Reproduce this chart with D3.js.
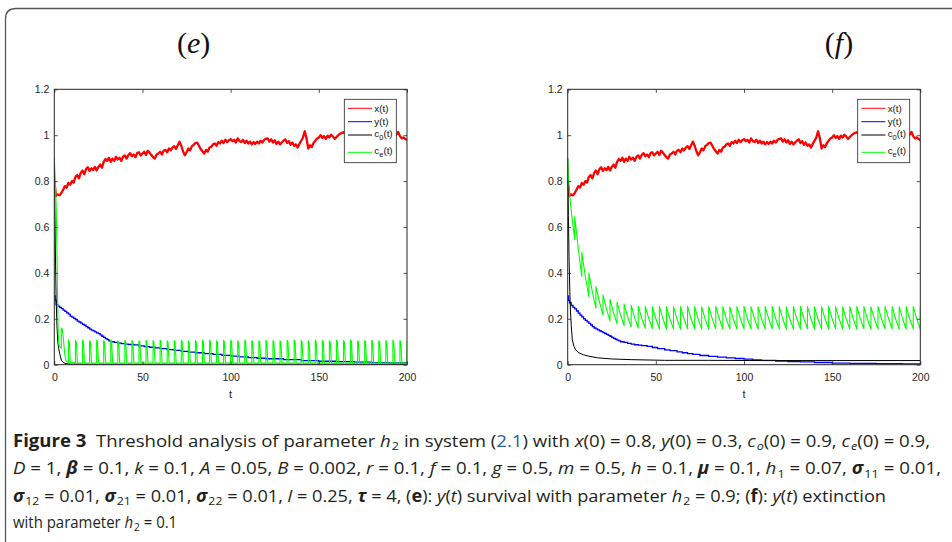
<!DOCTYPE html>
<html><head><meta charset="utf-8">
<script src="https://cdn.jsdelivr.net/npm/d3@7"></script>
<style>body{margin:0;background:#fff}svg{display:block}</style>
</head><body>
<svg id="c" width="952" height="542"></svg>
<script>
// ---------------- DATA ----------------
const tGrid = d3.range(0, 201); // sampling times of x(t)
const xT = [
0.800,0.735,0.742,0.738,0.748,0.762,0.778,0.772,0.792,0.784,
0.800,0.794,0.818,0.826,0.812,0.836,0.846,0.830,0.852,0.860,
0.844,0.856,0.848,0.862,0.846,0.862,0.872,0.858,0.884,0.896,
0.888,0.902,0.884,0.898,0.888,0.906,0.894,0.902,0.888,0.906,
0.912,0.898,0.914,0.922,0.908,0.916,0.904,0.922,0.926,0.912,
0.920,0.928,0.914,0.932,0.924,0.914,0.904,0.898,0.916,0.920,
0.928,0.916,0.932,0.936,0.926,0.942,0.934,0.946,0.952,0.940,
0.956,0.972,0.954,0.930,0.912,0.926,0.942,0.934,0.952,0.958,
0.966,0.968,0.954,0.940,0.930,0.920,0.936,0.928,0.946,0.950,
0.960,0.964,0.954,0.970,0.964,0.976,0.966,0.980,0.970,0.978,
0.983,0.974,0.980,0.968,0.986,0.974,0.970,0.980,0.966,0.976,
0.964,0.972,0.960,0.970,0.962,0.972,0.964,0.976,0.968,0.980,
0.984,0.986,0.972,0.982,0.968,0.978,0.962,0.972,0.960,0.968,
0.976,0.982,0.966,0.974,0.958,0.968,0.954,0.960,0.946,0.962,
0.976,0.990,1.017,0.988,0.942,0.956,0.948,0.966,0.976,0.986,
0.990,1.000,0.988,0.996,0.984,0.998,0.990,1.002,0.994,0.984,
0.992,1.000,1.006,1.010,1.013,1.004,0.998,1.002,0.990,0.996,
1.002,0.990,0.986,0.996,1.000,0.990,0.998,1.004,0.994,0.990,
1.000,0.992,0.986,0.996,1.002,0.998,0.990,0.996,1.000,0.988,
0.996,1.000,0.990,0.998,1.002,1.014,0.996,0.986,0.990,0.984,
0.978];

const yE = [[0,0.300],[0.5,0.28],[1,0.262],[2,0.255],[3,0.25],[4,0.244],[5,0.238],[6,0.232],[7,0.226],[8,0.22],[9,0.212],[10,0.207],[11,0.202],[12,0.197],[13,0.19],[14,0.186],[15,0.181],[16,0.176],[17,0.172],[18,0.166],[19,0.161],[20,0.155],[21,0.151],[22,0.147],[23,0.143],[24,0.139],[25,0.135],[26,0.13],[27,0.124],[28,0.119],[29,0.114],[30,0.109],[31,0.104],[32,0.1],[34,0.097],[36,0.094],[38,0.092],[40,0.09],[42,0.088],[45,0.086],[48,0.082],[51,0.079],[54,0.076],[57,0.073],[60,0.07],[64,0.066],[68,0.062],[72,0.058],[76,0.055],[80,0.052],[85,0.048],[90,0.045],[95,0.041],[100,0.037],[105,0.034],[110,0.031],[115,0.028],[120,0.026],[130,0.022],[140,0.018],[150,0.015],[160,0.013],[170,0.011],[180,0.009],[190,0.008],[200,0.007]];

const yF = [[0,0.3],[0.5,0.28],[1,0.27],[2,0.258],[3,0.25],[4,0.243],[5,0.234],[6,0.225],[7,0.216],[8,0.208],[9,0.2],[10,0.193],[11,0.187],[12,0.18],[13,0.173],[14,0.166],[15,0.16],[16,0.156],[17,0.152],[18,0.148],[19,0.144],[20,0.14],[21,0.136],[22,0.132],[23,0.128],[24,0.124],[25,0.119],[26,0.115],[27,0.111],[28,0.107],[29,0.104],[30,0.1],[32,0.097],[34,0.093],[36,0.09],[38,0.087],[40,0.085],[42,0.083],[45,0.08],[48,0.075],[51,0.07],[55,0.065],[58,0.061],[62,0.056],[65,0.052],[68,0.048],[71,0.045],[75,0.04],[80,0.036],[85,0.033],[90,0.03],[95,0.027],[100,0.024],[105,0.021],[110,0.019],[118,0.016],[125,0.014],[132,0.012],[140,0.0095],[150,0.007],[160,0.006],[175,0.005],[190,0.004],[200,0.003]];

const c0E = [[0,0.9],[0.3,0.7],[0.6,0.5],[1,0.3],[1.5,0.17],[2,0.1],[2.5,0.07],[3,0.05],[4,0.02],[5,0.01],[6,0.006],[8,0.003],[20,0.002],[200,0.002]];

const c0F = [[0,0.9],[0.4,0.65],[0.8,0.45],[1.2,0.32],[1.6,0.23],[2,0.17],[2.6,0.11],[3.5,0.08],[4.5,0.065],[6,0.053],[9,0.043],[12,0.037],[17,0.03],[25,0.025],[36,0.022],[55,0.019],[80,0.019],[110,0.018],[150,0.018],[200,0.018]];

const ceE = [[0,0.9],[0.6,0.8],[1.1,0.68],[1.5,0.5],[1.8,0.33],[2.1,0.18],[2.4,0.1],[2.8,0.082],[3.5,0.076],[4,0.072],[4,0.16],[4.6,0.153],[5.3,0.1],[6,0.04],[6.8,0.015],[8,0.009],
[8,0.009],[8,0.107],[8.5,0.102],[9.1,0.008],
[12,0.008],[12,0.105],[12.5,0.100],[13.1,0.007],
[16,0.007],[16,0.106],[16.5,0.101],[17.1,0.007],
[20,0.007],[20,0.104],[20.5,0.099],[21.1,0.007],
[24,0.007],[24,0.106],[24.5,0.101],[25.1,0.007],
[28,0.007],[28,0.105],[28.5,0.100],[29.1,0.007],
[32,0.007],[32,0.107],[32.5,0.102],[33.1,0.007],
[36,0.007],[36,0.104],[36.5,0.099],[37.1,0.007],
[40,0.007],[40,0.106],[40.5,0.101],[41.1,0.007],
[44,0.007],[44,0.105],[44.5,0.100],[45.1,0.007],
[48,0.007],[48,0.104],[48.5,0.099],[49.1,0.007],
[52,0.007],[52,0.106],[52.5,0.101],[53.1,0.007],
[56,0.007],[56,0.105],[56.5,0.100],[57.1,0.007],
[60,0.007],[60,0.107],[60.5,0.102],[61.1,0.007],
[64,0.007],[64,0.104],[64.5,0.099],[65.1,0.007],
[68,0.007],[68,0.105],[68.5,0.100],[69.1,0.007],
[72,0.007],[72,0.106],[72.5,0.101],[73.1,0.007],
[76,0.007],[76,0.104],[76.5,0.099],[77.1,0.007],
[80,0.007],[80,0.105],[80.5,0.100],[81.1,0.007],
[84,0.007],[84,0.107],[84.5,0.102],[85.1,0.007],
[88,0.007],[88,0.106],[88.5,0.101],[89.1,0.007],
[92,0.007],[92,0.104],[92.5,0.099],[93.1,0.007],
[96,0.007],[96,0.105],[96.5,0.100],[97.1,0.007],
[100,0.007],[100,0.106],[100.5,0.101],[101.1,0.007],
[104,0.007],[104,0.104],[104.5,0.099],[105.1,0.007],
[108,0.007],[108,0.107],[108.5,0.102],[109.1,0.007],
[112,0.007],[112,0.105],[112.5,0.100],[113.1,0.007],
[116,0.007],[116,0.104],[116.5,0.099],[117.1,0.007],
[120,0.007],[120,0.106],[120.5,0.101],[121.1,0.007],
[124,0.007],[124,0.105],[124.5,0.100],[125.1,0.007],
[128,0.007],[128,0.104],[128.5,0.099],[129.1,0.007],
[132,0.007],[132,0.106],[132.5,0.101],[133.1,0.007],
[136,0.007],[136,0.107],[136.5,0.102],[137.1,0.007],
[140,0.007],[140,0.105],[140.5,0.100],[141.1,0.007],
[144,0.007],[144,0.104],[144.5,0.099],[145.1,0.007],
[148,0.007],[148,0.106],[148.5,0.101],[149.1,0.007],
[152,0.007],[152,0.105],[152.5,0.100],[153.1,0.007],
[156,0.007],[156,0.104],[156.5,0.099],[157.1,0.007],
[160,0.007],[160,0.106],[160.5,0.101],[161.1,0.007],
[164,0.007],[164,0.105],[164.5,0.100],[165.1,0.007],
[168,0.007],[168,0.107],[168.5,0.102],[169.1,0.007],
[172,0.007],[172,0.104],[172.5,0.099],[173.1,0.007],
[176,0.007],[176,0.105],[176.5,0.100],[177.1,0.007],
[180,0.007],[180,0.106],[180.5,0.101],[181.1,0.007],
[184,0.007],[184,0.104],[184.5,0.099],[185.1,0.007],
[188,0.007],[188,0.105],[188.5,0.100],[189.1,0.007],
[192,0.007],[192,0.106],[192.5,0.101],[193.1,0.007],
[196,0.007],[196,0.105],[196.5,0.100],[197.1,0.007],
[200,0.007],[200,0.105]];

const ceF = [[0,0.9],[0.5,0.81],[1,0.75],[1.5,0.71],[2,0.672],[3,0.605],[4,0.545],
[4,0.645],[6,0.505],[8,0.385],
[8,0.49],[10,0.385],[12,0.297],
[12,0.399],[14,0.316],[16,0.246],
[16,0.341],[18,0.274],[20,0.217],
[20,0.304],[22,0.243],[24,0.19],
[24,0.285],[26,0.227],[28,0.178],
[28,0.272],[30,0.217],[32,0.17],
[32,0.264],[34,0.21],[36,0.164],
[36,0.258],[38,0.205],[40,0.16],
[40,0.255],[42,0.202],[44,0.158],
[44,0.254],[46,0.201],[48,0.157],
[48,0.253],[50,0.200],[52,0.156],
[52,0.254],[54,0.200],[56,0.155],
[56,0.253],[58,0.199],[60,0.156],
[60,0.252],[62,0.199],[64,0.155],
[64,0.253],[66,0.200],[68,0.156],
[68,0.254],[70,0.200],[72,0.156],
[72,0.253],[74,0.199],[76,0.155],
[76,0.252],[78,0.199],[80,0.155],
[80,0.253],[82,0.200],[84,0.156],
[84,0.254],[86,0.200],[88,0.156],
[88,0.253],[90,0.199],[92,0.155],
[92,0.252],[94,0.199],[96,0.155],
[96,0.253],[98,0.200],[100,0.156],
[100,0.254],[102,0.200],[104,0.156],
[104,0.253],[106,0.199],[108,0.155],
[108,0.252],[110,0.199],[112,0.155],
[112,0.253],[114,0.200],[116,0.156],
[116,0.254],[118,0.200],[120,0.156],
[120,0.253],[122,0.199],[124,0.155],
[124,0.252],[126,0.199],[128,0.155],
[128,0.253],[130,0.200],[132,0.156],
[132,0.254],[134,0.200],[136,0.156],
[136,0.253],[138,0.199],[140,0.155],
[140,0.252],[142,0.199],[144,0.155],
[144,0.253],[146,0.200],[148,0.156],
[148,0.254],[150,0.200],[152,0.156],
[152,0.253],[154,0.199],[156,0.155],
[156,0.252],[158,0.199],[160,0.155],
[160,0.253],[162,0.200],[164,0.156],
[164,0.254],[166,0.200],[168,0.156],
[168,0.253],[170,0.199],[172,0.155],
[172,0.252],[174,0.199],[176,0.155],
[176,0.253],[178,0.200],[180,0.156],
[180,0.254],[182,0.200],[184,0.156],
[184,0.253],[186,0.199],[188,0.155],
[188,0.252],[190,0.199],[192,0.155],
[192,0.253],[194,0.200],[196,0.156],
[196,0.254],[198,0.200],[200,0.155],
[200,0.253]];

const xTicks = [0, 50, 100, 150, 200];
const xTickLabels = ["0", "50", "100", "150", "200"];
const yTicks = [0, 0.2, 0.4, 0.6, 0.8, 1, 1.2];
const yTickLabels = ["0", "0.2", "0.4", "0.6", "0.8", "1", "1.2"];
const legendLabels = [["x", "", "(t)"], ["y", "", "(t)"], ["c", "0", "(t)"], ["c", "e", "(t)"]];
const seriesColors = ["#ff0000", "#0000ff", "#000000", "#00ff00"];

// ---------------- DRAW ----------------
const svg = d3.select("#c");
const AX = "#262626";

// outer frame
svg.append("path")
  .attr("d", "M5.5,560 L5.5,19 Q5.5,8.5 16,8.5 L970,8.5")
  .attr("fill", "none").attr("stroke", "#555").attr("stroke-width", 1.3);

const yScale = d3.scaleLinear([0, 1.2], [364.7, 89.3]);

const panels = [
  {key: "e", x0: 54.3, x1: 407, titleX: 193.7, y: yE, c0: c0E, ce: ceE},
  {key: "f", x0: 567.7, x1: 920.3, titleX: 839, y: yF, c0: c0F, ce: ceF}
];

panels.forEach((p, i) => {
  const x = d3.scaleLinear([0, 200], [p.x0, p.x1]);
  const g = svg.append("g");
  const clipId = "clip" + p.key;
  svg.append("clipPath").attr("id", clipId).append("rect")
    .attr("x", p.x0).attr("y", yScale(1.2)).attr("width", p.x1 - p.x0).attr("height", yScale(0) - yScale(1.2));

  // title
  const tt = g.append("text").attr("x", p.titleX).attr("y", 52.5)
    .attr("text-anchor", "middle").attr("font-family", "Liberation Serif, serif")
    .attr("font-size", 30).attr("fill", "#111");
  tt.append("tspan").text("(");
  tt.append("tspan").attr("font-style", "italic").text(p.key);
  tt.append("tspan").text(")");

  // series
  const lineL = d3.line().x(d => x(d[0])).y(d => yScale(d[1]));
  const lineStep = d3.line().curve(d3.curveStepAfter).x(d => x(d[0])).y(d => yScale(d[1]));
  const plot = g.append("g").attr("clip-path", `url(#${clipId})`);
  const xData = tGrid.map((t, j) => [t, xT[j]]);
  plot.append("path").attr("d", lineL(xData)).attr("fill", "none")
    .attr("stroke", seriesColors[0]).attr("stroke-width", 2.3).attr("stroke-linejoin", "round");
  plot.append("path").attr("d", lineStep(p.y)).attr("fill", "none")
    .attr("stroke", seriesColors[1]).attr("stroke-width", 1.3);
  plot.append("path").attr("d", lineL(p.c0)).attr("fill", "none")
    .attr("stroke", seriesColors[2]).attr("stroke-width", 1);
  plot.append("path").attr("d", lineL(p.ce)).attr("fill", "none")
    .attr("stroke", seriesColors[3]).attr("stroke-width", 1.1).attr("stroke-linejoin", "round");

  // axes
  const fmtX = (d) => xTickLabels[xTicks.indexOf(d)];
  const fmtY = (d) => yTickLabels[yTicks.indexOf(d)];
  const styleAxis = (sel) => {
    sel.select(".domain").remove();
    sel.selectAll("line").attr("stroke", AX).attr("stroke-width", 0.8);
    sel.selectAll("text").attr("fill", AX).attr("font-family", "Liberation Sans, Arial, sans-serif").attr("font-size", 10.5);
  };
  g.append("g").attr("transform", `translate(0,${yScale(0)})`)
    .call(d3.axisBottom(x).tickValues(xTicks).tickFormat(fmtX).tickSizeInner(-3.5).tickSizeOuter(0).tickPadding(8.5))
    .call(styleAxis);
  g.append("g").attr("transform", `translate(0,${yScale(1.2)})`)
    .call(d3.axisTop(x).tickValues(xTicks).tickFormat("").tickSizeInner(-3.5).tickSizeOuter(0))
    .call(styleAxis);
  g.append("g").attr("transform", `translate(${p.x0},0)`)
    .call(d3.axisLeft(yScale).tickValues(yTicks).tickFormat(fmtY).tickSizeInner(-3.5).tickSizeOuter(0).tickPadding(5))
    .call(styleAxis);
  g.append("g").attr("transform", `translate(${p.x1},0)`)
    .call(d3.axisRight(yScale).tickValues(yTicks).tickFormat("").tickSizeInner(-3.5).tickSizeOuter(0))
    .call(styleAxis);
  g.append("rect").attr("x", p.x0).attr("y", yScale(1.2)).attr("width", p.x1 - p.x0)
    .attr("height", yScale(0) - yScale(1.2)).attr("fill", "none").attr("stroke", AX).attr("stroke-width", 1);

  // x label
  g.append("text").attr("x", (p.x0 + p.x1) / 2).attr("y", 397.5).attr("text-anchor", "middle")
    .attr("font-family", "Liberation Sans, Arial, sans-serif").attr("font-size", 11).attr("fill", AX).text("t");

  // legend
  const lx = p.x0 + 290;
  const lg = g.append("g");
  lg.append("rect").attr("x", lx).attr("y", 99.3).attr("width", 52).attr("height", 63.4)
    .attr("fill", "#fff").attr("stroke", AX).attr("stroke-width", 0.8);
  const rowsY = [108.3, 121.7, 135, 152.3];
  legendLabels.forEach((lab, k) => {
    const ry = rowsY[k];
    lg.append("line").attr("x1", lx + 3.7).attr("x2", lx + 27.7).attr("y1", ry).attr("y2", ry)
      .attr("stroke", seriesColors[k]).attr("stroke-width", 1);
    const t = lg.append("text").attr("x", lx + 30).attr("y", ry + (lab[1] ? 1.8 : 3.5))
      .attr("font-family", "Liberation Sans, Arial, sans-serif").attr("font-size", 9.8).attr("fill", "#111");
    t.append("tspan").text(lab[0]);
    if (lab[1]) {
      t.append("tspan").attr("font-size", 7.5).attr("dy", 3.2).text(lab[1]);
      t.append("tspan").attr("dy", -3.2).text(lab[2]);
    } else {
      t.append("tspan").text(lab[2]);
    }
  });
});

// ---------------- CAPTION ----------------
const captionLines = [
  [["Figure 3","b"],["  Threshold analysis of parameter ",""],["h","i"],["2","sub"],[" in system (",""],["2.1","link"],[") with ",""],["x","i"],["(0) = 0.8, ",""],["y","i"],["(0) = 0.3, ",""],["c","i"],["o","subi"],["(0) = 0.9, ",""],["c","i"],["e","subi"],["(0) = 0.9,",""]],
  [["D","i"],[" = 1, ",""],["β","bi"],[" = 0.1, ",""],["k","i"],[" = 0.1, ",""],["A","i"],[" = 0.05, ",""],["B","i"],[" = 0.002, ",""],["r","i"],[" = 0.1, ",""],["f","i"],[" = 0.1, ",""],["g","i"],[" = 0.5, ",""],["m","i"],[" = 0.5, ",""],["h","i"],[" = 0.1, ",""],["μ","bi"],[" = 0.1, ",""],["h","i"],["1","sub"],[" = 0.07, ",""],["σ","bi"],["11","sub"],[" = 0.01,",""]],
  [["σ","bi"],["12","sub"],[" = 0.01, ",""],["σ","bi"],["21","sub"],[" = 0.01, ",""],["σ","bi"],["22","sub"],[" = 0.01, ",""],["l","i"],[" = 0.25, ",""],["τ","bi"],[" = 4, (",""],["e","b"],["): ",""],["y","i"],["(",""],["t","i"],[") survival with parameter ",""],["h","i"],["2","sub"],[" = 0.9; (",""],["f","b"],["): ",""],["y","i"],["(",""],["t","i"],[") extinction",""]],
  [["with parameter ",""],["h","i"],["2","sub"],[" = 0.1",""]]
];
const capY = [446.5, 474, 501.5, 528];
const capW = [917, 928, 873, null];
captionLines.forEach((segs, li) => {
  const t = svg.append("text").attr("x", 13).attr("y", capY[li])
    .attr("font-family", "Open Sans, Noto Sans, sans-serif").attr("font-size", 17)
    .attr("fill", "#231f20").style("white-space", "pre");
  if (capW[li]) t.attr("textLength", capW[li]).attr("lengthAdjust", "spacingAndGlyphs");
  else t.attr("transform", "translate(13,0) scale(0.88,1) translate(-13,0)");
  let off = 0;
  segs.forEach(([txt, cls]) => {
    const s = t.append("tspan").text(txt);
    const isSub = cls === "sub" || cls === "subi";
    const target = isSub ? 3.5 : 0;
    if (target !== off) { s.attr("dy", target - off); off = target; }
    if (isSub) s.attr("font-size", 11.5).attr("dx", 1);
    if (cls === "b" || cls === "bi") s.attr("font-weight", "bold");
    if (cls === "i" || cls === "bi" || cls === "subi") s.attr("font-style", "italic");
    if (cls === "link") s.attr("fill", "#2c5aa0");
  });
});
</script>
</body></html>
